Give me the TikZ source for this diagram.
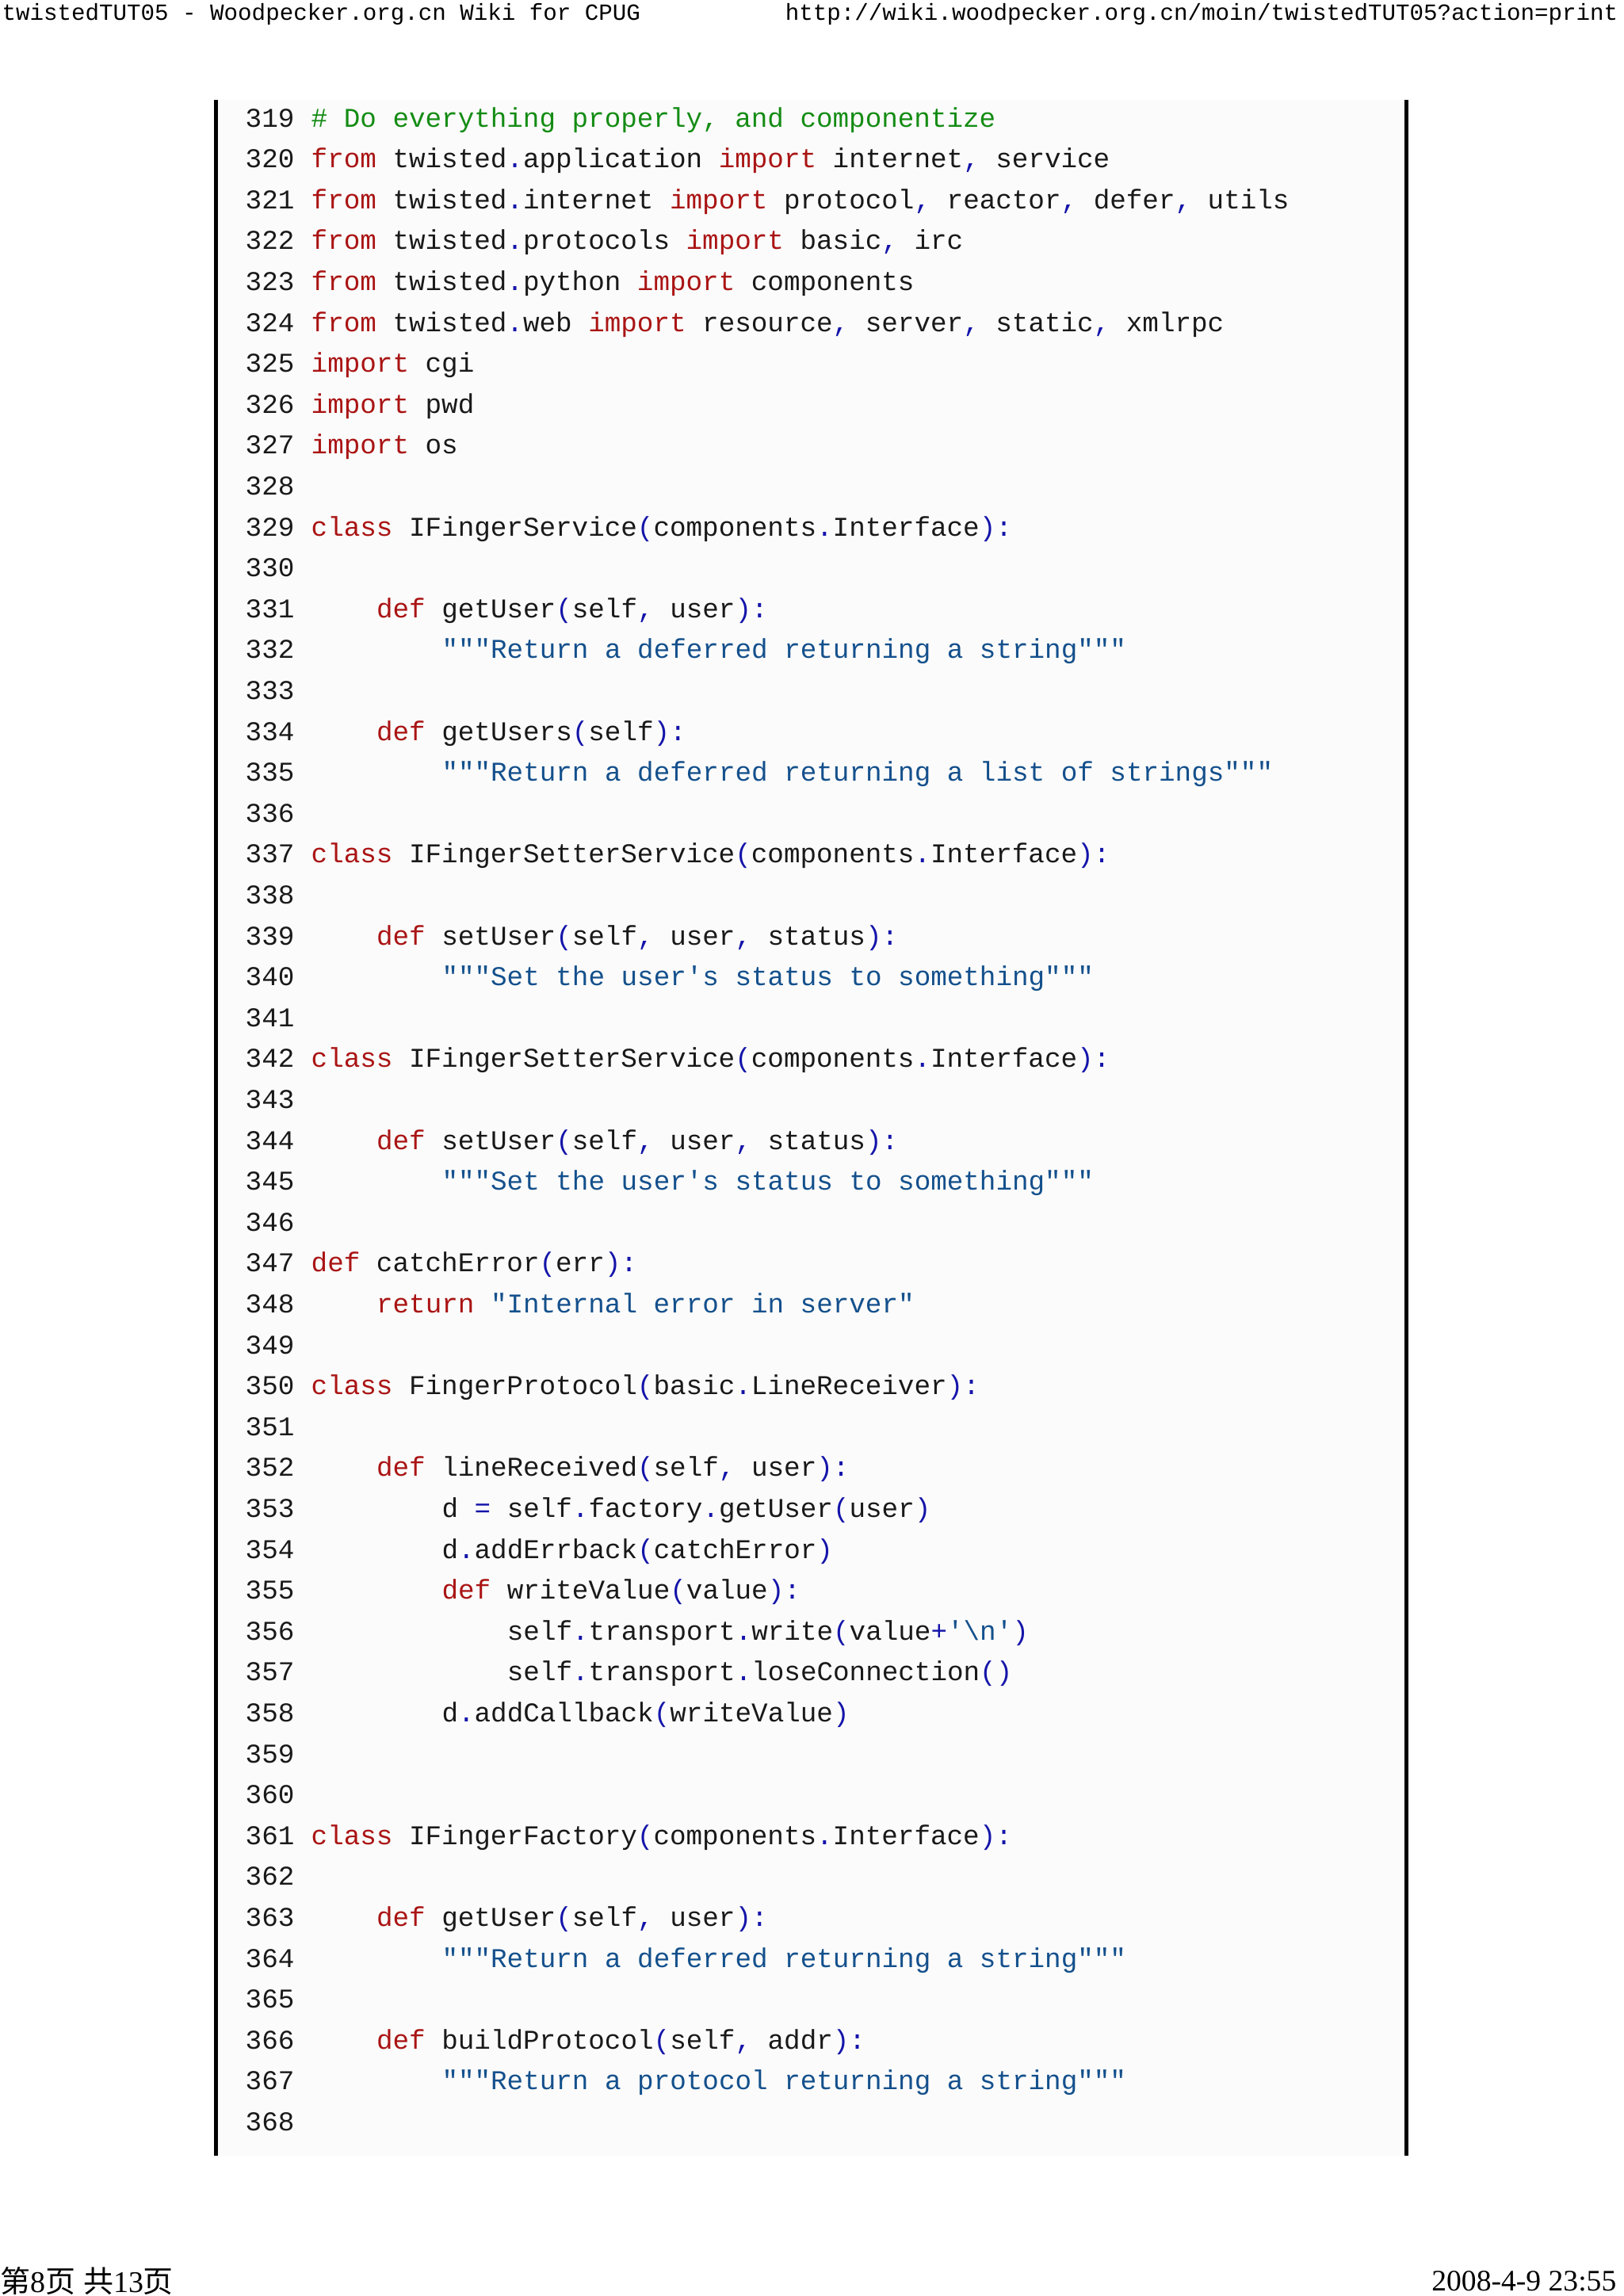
\documentclass[tikz,border=0pt]{standalone}
\usepackage{fontspec}
\setmonofont{Liberation Mono}
\setmainfont{Liberation Serif}
\newfontfamily\cjk{Noto Sans CJK SC}
\definecolor{kwc}{RGB}{170,20,20}
\definecolor{punc}{RGB}{20,20,170}
\definecolor{strc}{RGB}{20,80,140}
\definecolor{cmtc}{RGB}{20,140,20}
\newcommand\kwd[1]{\textcolor{kwc}{#1}}
\newcommand\pun[1]{\textcolor{punc}{#1}}
\newcommand\strg[1]{\textcolor{strc}{#1}}
\newcommand\cmt[1]{\textcolor{cmtc}{#1}}
\newcommand\codeline[3]{%
  \node[codetxt] (n#1) at (3.09,{-(1.60+0.516*(#1-319))}) {#1};
  \node[codetxt] (c#1) at ({3.92+0.206*#2},{-(1.60+0.516*(#1-319))}) {#3};}
\tikzset{codetxt/.style={anchor=base west,inner sep=0pt,font=\ttfamily\fontsize{9.75pt}{12pt}\selectfont,text=black!90}}
\begin{document}
\begin{tikzpicture}
\useasboundingbox (0,0) rectangle (20.48,-28.97);
\fill[white] (0,0) rectangle (20.48,-28.97);
\fill[black!1.5] (2.75,-1.26) rectangle (17.72,-27.2);
\draw[line width=0.05cm] (2.72,-1.26) -- (2.72,-27.2);
\draw[line width=0.05cm] (17.74,-1.26) -- (17.74,-27.2);
\node[anchor=west,inner sep=0pt,font=\ttfamily\fontsize{8.3pt}{10pt}\selectfont] (hl) at (0.02,-0.18) {twistedTUT05 - Woodpecker.org.cn Wiki for CPUG};
\node[anchor=east,inner sep=0pt,font=\ttfamily\fontsize{8.3pt}{10pt}\selectfont] (hr) at (20.42,-0.18) {http://wiki.woodpecker.org.cn/moin/twistedTUT05?action=print};
\node[anchor=west,inner sep=0pt,font=\fontsize{10.8pt}{12pt}\selectfont] (fl) at (0.0,-28.78) {{\cjk 第}8{\cjk 页} {\cjk 共}13{\cjk 页}};
\node[anchor=east,inner sep=0pt,font=\fontsize{10.7pt}{12pt}\selectfont] (fr) at (20.4,-28.78) {2008-4-9 23:55};
\codeline{319}{0}{\cmt{\# Do everything properly, and componentize}}
\codeline{320}{0}{\kwd{from} twisted\pun{.}application \kwd{import} internet\pun{,} service}
\codeline{321}{0}{\kwd{from} twisted\pun{.}internet \kwd{import} protocol\pun{,} reactor\pun{,} defer\pun{,} utils}
\codeline{322}{0}{\kwd{from} twisted\pun{.}protocols \kwd{import} basic\pun{,} irc}
\codeline{323}{0}{\kwd{from} twisted\pun{.}python \kwd{import} components}
\codeline{324}{0}{\kwd{from} twisted\pun{.}web \kwd{import} resource\pun{,} server\pun{,} static\pun{,} xmlrpc}
\codeline{325}{0}{\kwd{import} cgi}
\codeline{326}{0}{\kwd{import} pwd}
\codeline{327}{0}{\kwd{import} os}
\codeline{328}{0}{}
\codeline{329}{0}{\kwd{class} IFingerService\pun{(}components\pun{.}Interface\pun{):}}
\codeline{330}{0}{}
\codeline{331}{4}{\kwd{def} getUser\pun{(}self\pun{,} user\pun{):}}
\codeline{332}{8}{\strg{"""Return a deferred returning a string"""}}
\codeline{333}{0}{}
\codeline{334}{4}{\kwd{def} getUsers\pun{(}self\pun{):}}
\codeline{335}{8}{\strg{"""Return a deferred returning a list of strings"""}}
\codeline{336}{0}{}
\codeline{337}{0}{\kwd{class} IFingerSetterService\pun{(}components\pun{.}Interface\pun{):}}
\codeline{338}{0}{}
\codeline{339}{4}{\kwd{def} setUser\pun{(}self\pun{,} user\pun{,} status\pun{):}}
\codeline{340}{8}{\strg{"""Set the user's status to something"""}}
\codeline{341}{0}{}
\codeline{342}{0}{\kwd{class} IFingerSetterService\pun{(}components\pun{.}Interface\pun{):}}
\codeline{343}{0}{}
\codeline{344}{4}{\kwd{def} setUser\pun{(}self\pun{,} user\pun{,} status\pun{):}}
\codeline{345}{8}{\strg{"""Set the user's status to something"""}}
\codeline{346}{0}{}
\codeline{347}{0}{\kwd{def} catchError\pun{(}err\pun{):}}
\codeline{348}{4}{\kwd{return} \strg{"Internal error in server"}}
\codeline{349}{0}{}
\codeline{350}{0}{\kwd{class} FingerProtocol\pun{(}basic\pun{.}LineReceiver\pun{):}}
\codeline{351}{0}{}
\codeline{352}{4}{\kwd{def} lineReceived\pun{(}self\pun{,} user\pun{):}}
\codeline{353}{8}{d \pun{=} self\pun{.}factory\pun{.}getUser\pun{(}user\pun{)}}
\codeline{354}{8}{d\pun{.}addErrback\pun{(}catchError\pun{)}}
\codeline{355}{8}{\kwd{def} writeValue\pun{(}value\pun{):}}
\codeline{356}{12}{self\pun{.}transport\pun{.}write\pun{(}value\pun{+}\strg{'\textbackslash n'}\pun{)}}
\codeline{357}{12}{self\pun{.}transport\pun{.}loseConnection\pun{()}}
\codeline{358}{8}{d\pun{.}addCallback\pun{(}writeValue\pun{)}}
\codeline{359}{0}{}
\codeline{360}{0}{}
\codeline{361}{0}{\kwd{class} IFingerFactory\pun{(}components\pun{.}Interface\pun{):}}
\codeline{362}{0}{}
\codeline{363}{4}{\kwd{def} getUser\pun{(}self\pun{,} user\pun{):}}
\codeline{364}{8}{\strg{"""Return a deferred returning a string"""}}
\codeline{365}{0}{}
\codeline{366}{4}{\kwd{def} buildProtocol\pun{(}self\pun{,} addr\pun{):}}
\codeline{367}{8}{\strg{"""Return a protocol returning a string"""}}
\codeline{368}{0}{}
\end{tikzpicture}
\end{document}
